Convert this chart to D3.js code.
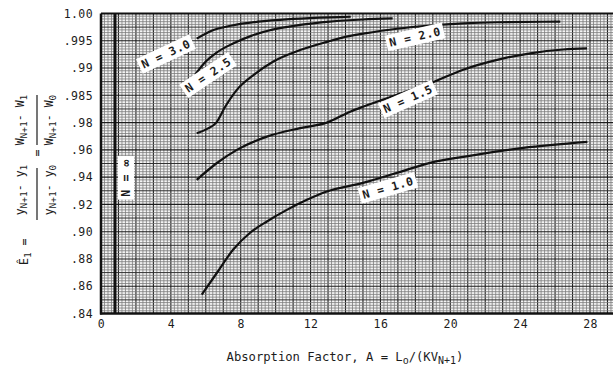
<!DOCTYPE html>
<html>
<head>
<meta charset="utf-8">
<script src="https://cdn.jsdelivr.net/npm/d3@7/dist/d3.min.js"></script>
<style>
  body { margin: 0; background: #fff; }
  text { font-family: "DejaVu Sans Mono", "Liberation Mono", monospace; fill: #1c1c1c; }
</style>
</head>
<body>
<svg id="chart" width="613" height="367"></svg>
<script>
'use strict';

// axis ticks
var xTicks = [0, 4, 8, 12, 16, 20, 24, 28];
var yTicks = [1.00, 0.995, 0.99, 0.985, 0.98, 0.96, 0.94, 0.92, 0.90, 0.88, 0.86, 0.84];
var yTickLabels = ['1.00', '.995', '.99', '.985', '.98', '.96', '.94', '.92', '.90', '.88', '.86', '.84'];

// curves, [A, E]
var curveN30 = [[5.48, .9954], [6.3, .9968], [7.5, .9978], [9.0, .9985], [11.0, .9990], [13.1, .9993], [14.3, .9994]];
var curveN25 = [[5.39, .9888], [6.0, .9912], [6.6, .9928], [7.56, .9945], [8.6, .9959], [9.5, .9968], [11.4, .9979], [13.1, .9985], [15.0, .9989], [16.7, .9991]];
var curveN20 = [[5.48, .9722], [6.05, .9752], [6.6, .9800], [7.11, .9829], [7.78, .9860], [8.73, .9887], [9.87, .9912],
                [11.4, .9933], [12.93, .9948], [14.27, .9959], [15.01, .9963], [16.95, .9972], [18.85, .9978],
                [20.74, .9982], [22.68, .9984], [26.3, .9985]];
var curveN15 = [[5.48, .938], [6.6, .950], [7.78, .960], [9.5, .9697], [11.4, .9759], [12.93, .9800],
                [14.27, .9820], [15.0, .9829], [16.95, .9851], [18.85, .9872], [20.74, .9897], [22.68, .9915],
                [24.58, .9927], [26.48, .9934], [27.83, .9936]];
var curveN10 = [[5.77, .8538], [6.63, .8697], [7.56, .8867], [8.54, .8992], [9.5, .9075], [10.64, .9160], [11.79, .9234],
                [12.93, .9295], [15.0, .9358], [16.96, .9432], [18.85, .9505], [20.74, .9549], [24.18, .9615], [27.85, .9659]];
var nInfA = 0.8;

// curve labels: text, A, E, angle
var labelTexts = ['N = 3.0', 'N = 2.5', 'N = 2.0', 'N = 1.5', 'N = 1.0', 'N = \u221e'];
var labelA = [3.72, 6.13, 17.98, 17.58, 16.43, 1.43];
var labelE = [.99258, .98874, .9957, .98434, .93216, .9395];
var labelAngle = [-25, -34, -13, -24, -16, -90];

var svg = d3.select('#chart');
var plotLeft = 101, plotRight = 613, plotTop = 13.5, plotBottom = 313.5;

var x = d3.scaleLinear().domain([0, 28]).range([101, 590]);
var yPos = yTicks.map(function (d, i) {
    return plotTop + i * (plotBottom - plotTop) / (yTicks.length - 1);
});
var y = d3.scaleLinear().domain(yTicks).range(yPos);

svg.append('clipPath').attr('id', 'plotClip')
    .append('rect')
    .attr('x', plotLeft).attr('y', plotTop)
    .attr('width', plotRight - plotLeft).attr('height', plotBottom - plotTop);

// graph paper
var grid = svg.append('g').attr('clip-path', 'url(#plotClip)');
grid.append('rect')
    .attr('x', plotLeft).attr('y', plotTop)
    .attr('width', plotRight - plotLeft).attr('height', plotBottom - plotTop)
    .attr('fill', '#f4f4f4');

var xMax = x.invert(plotRight);
var vLines = d3.range(0, Math.floor(xMax * 5) + 1).map(function (i) { return i; });
grid.selectAll('line.v')
    .data(vLines)
    .enter().append('line')
    .attr('class', 'v')
    .attr('x1', function (i) { return x(i / 5); })
    .attr('x2', function (i) { return x(i / 5); })
    .attr('y1', plotTop).attr('y2', plotBottom)
    .attr('stroke', function (i) { return i % 5 === 0 ? '#1e1e1e' : '#7c7c7c'; })
    .attr('stroke-width', function (i) { return i % 5 === 0 ? 1.1 : 0.8; });

var hLines = [];
for (var i = 0; i < yPos.length - 1; i++) {
    for (var j = 0; j < 10; j++) {
        hLines.push({ pos: yPos[i] + j * (yPos[i + 1] - yPos[i]) / 10, j: j });
    }
}
grid.selectAll('line.h')
    .data(hLines)
    .enter().append('line')
    .attr('class', 'h')
    .attr('x1', plotLeft).attr('x2', plotRight)
    .attr('y1', function (d) { return d.pos; })
    .attr('y2', function (d) { return d.pos; })
    .attr('stroke', function (d) { return d.j === 0 ? '#1e1e1e' : (d.j === 5 ? '#333' : '#7c7c7c'); })
    .attr('stroke-width', function (d) { return d.j === 0 ? 1.1 : (d.j === 5 ? 1 : 0.8); });

// N = infinity
grid.append('line')
    .attr('x1', x(nInfA)).attr('x2', x(nInfA))
    .attr('y1', plotTop).attr('y2', plotBottom)
    .attr('stroke', '#111').attr('stroke-width', 3);

// curves
var line = d3.line()
    .x(function (d) { return x(d[0]); })
    .y(function (d) { return y(d[1]); })
    .curve(d3.curveMonotoneX);

grid.selectAll('path.curve')
    .data([curveN30, curveN25, curveN20, curveN15, curveN10])
    .enter().append('path')
    .attr('class', 'curve')
    .attr('d', line)
    .attr('fill', 'none')
    .attr('stroke', '#111')
    .attr('stroke-width', 2.2);

// curve labels
var labels = grid.selectAll('g.lbl')
    .data(labelTexts)
    .enter().append('g')
    .attr('class', 'lbl')
    .attr('transform', function (t, k) {
        return 'translate(' + x(labelA[k]) + ',' + y(labelE[k]) + ') rotate(' + labelAngle[k] + ')';
    });
labels.append('rect').attr('fill', '#fff');
labels.append('text')
    .attr('text-anchor', 'middle')
    .attr('dy', '0.35em')
    .style('font-size', '11.5px')
    .style('font-weight', 'bold')
    .style('letter-spacing', '0.6px')
    .text(function (t) { return t; });
labels.each(function () {
    var g = d3.select(this);
    var bb = g.select('text').node().getBBox();
    g.select('rect')
        .attr('x', bb.x - 3).attr('y', bb.y - 1)
        .attr('width', bb.width + 6).attr('height', bb.height + 2);
});

// frame
svg.append('line').attr('x1', plotLeft).attr('x2', plotRight).attr('y1', plotTop).attr('y2', plotTop)
    .attr('stroke', '#111').attr('stroke-width', 2);
svg.append('line').attr('x1', plotLeft - 1).attr('x2', plotRight).attr('y1', plotBottom).attr('y2', plotBottom)
    .attr('stroke', '#111').attr('stroke-width', 2.5);
svg.append('line').attr('x1', plotLeft).attr('x2', plotLeft).attr('y1', plotTop).attr('y2', plotBottom + 1)
    .attr('stroke', '#111').attr('stroke-width', 2.5);

// axes
var xAxis = svg.append('g')
    .attr('transform', 'translate(0,' + plotBottom + ')')
    .call(d3.axisBottom(x).tickValues(xTicks).tickSize(0).tickPadding(6));
var yAxis = svg.append('g')
    .attr('transform', 'translate(' + (plotLeft - 6) + ',0)')
    .call(d3.axisLeft(y).tickValues(yTicks).tickSize(0).tickPadding(2)
        .tickFormat(function (d, k) { return yTickLabels[k]; }));
[xAxis, yAxis].forEach(function (a) {
    a.select('.domain').remove();
    a.selectAll('text')
        .style('font-family', '"DejaVu Sans Mono", monospace')
        .style('font-size', '11.5px')
        .style('letter-spacing', '0.4px')
        .attr('fill', '#1c1c1c');
});

// x title
var xt = svg.append('text')
    .attr('x', 345).attr('y', 361)
    .attr('text-anchor', 'middle')
    .style('font-size', '12.2px');
xt.append('tspan').text('Absorption Factor, A = L');
xt.append('tspan').attr('dy', 3).style('font-size', '10px').text('o');
xt.append('tspan').attr('dy', -3).text('/(KV');
xt.append('tspan').attr('dy', 3).style('font-size', '10px').text('N+1');
xt.append('tspan').attr('dy', -3).text(')');

// y title, drawn in a rotated frame
var yt = svg.append('g').attr('transform', 'translate(37,185) rotate(-90)');
function subText(sel, parts) {
    parts.forEach(function (p) {
        sel.append('tspan')
            .attr('dy', p[1] ? 3 : (p[2] ? -3 : 0))
            .style('font-size', p[1] ? '9.5px' : '11.5px')
            .text(p[0]);
    });
}
var eq = yt.append('text').attr('x', -80).attr('y', -9);
subText(eq, [['\u00ca', 0, 0], ['1', 1, 0], [' =', 0, 1]]);

var n1 = yt.append('text').attr('x', -5).attr('y', -13).attr('text-anchor', 'middle');
subText(n1, [['y', 0, 0], ['N+1', 1, 0], ['- y', 0, 1], ['1', 1, 0]]);
var d1 = yt.append('text').attr('x', -5).attr('y', 16).attr('text-anchor', 'middle');
subText(d1, [['y', 0, 0], ['N+1', 1, 0], ['- y', 0, 1], ['0', 1, 0]]);
yt.append('line').attr('x1', -35).attr('x2', 17).attr('y1', 0).attr('y2', 0)
    .attr('stroke', '#1c1c1c').attr('stroke-width', 1.2);

yt.append('text').attr('x', 32).attr('y', 4).attr('text-anchor', 'middle')
    .style('font-size', '11.5px').text('=');

var n2 = yt.append('text').attr('x', 65).attr('y', -13).attr('text-anchor', 'middle');
subText(n2, [['W', 0, 0], ['N+1', 1, 0], ['- W', 0, 1], ['1', 1, 0]]);
var d2 = yt.append('text').attr('x', 65).attr('y', 16).attr('text-anchor', 'middle');
subText(d2, [['W', 0, 0], ['N+1', 1, 0], ['- W', 0, 1], ['0', 1, 0]]);
yt.append('line').attr('x1', 40).attr('x2', 90).attr('y1', 0).attr('y2', 0)
    .attr('stroke', '#1c1c1c').attr('stroke-width', 1.2);
</script>
</body>
</html>
